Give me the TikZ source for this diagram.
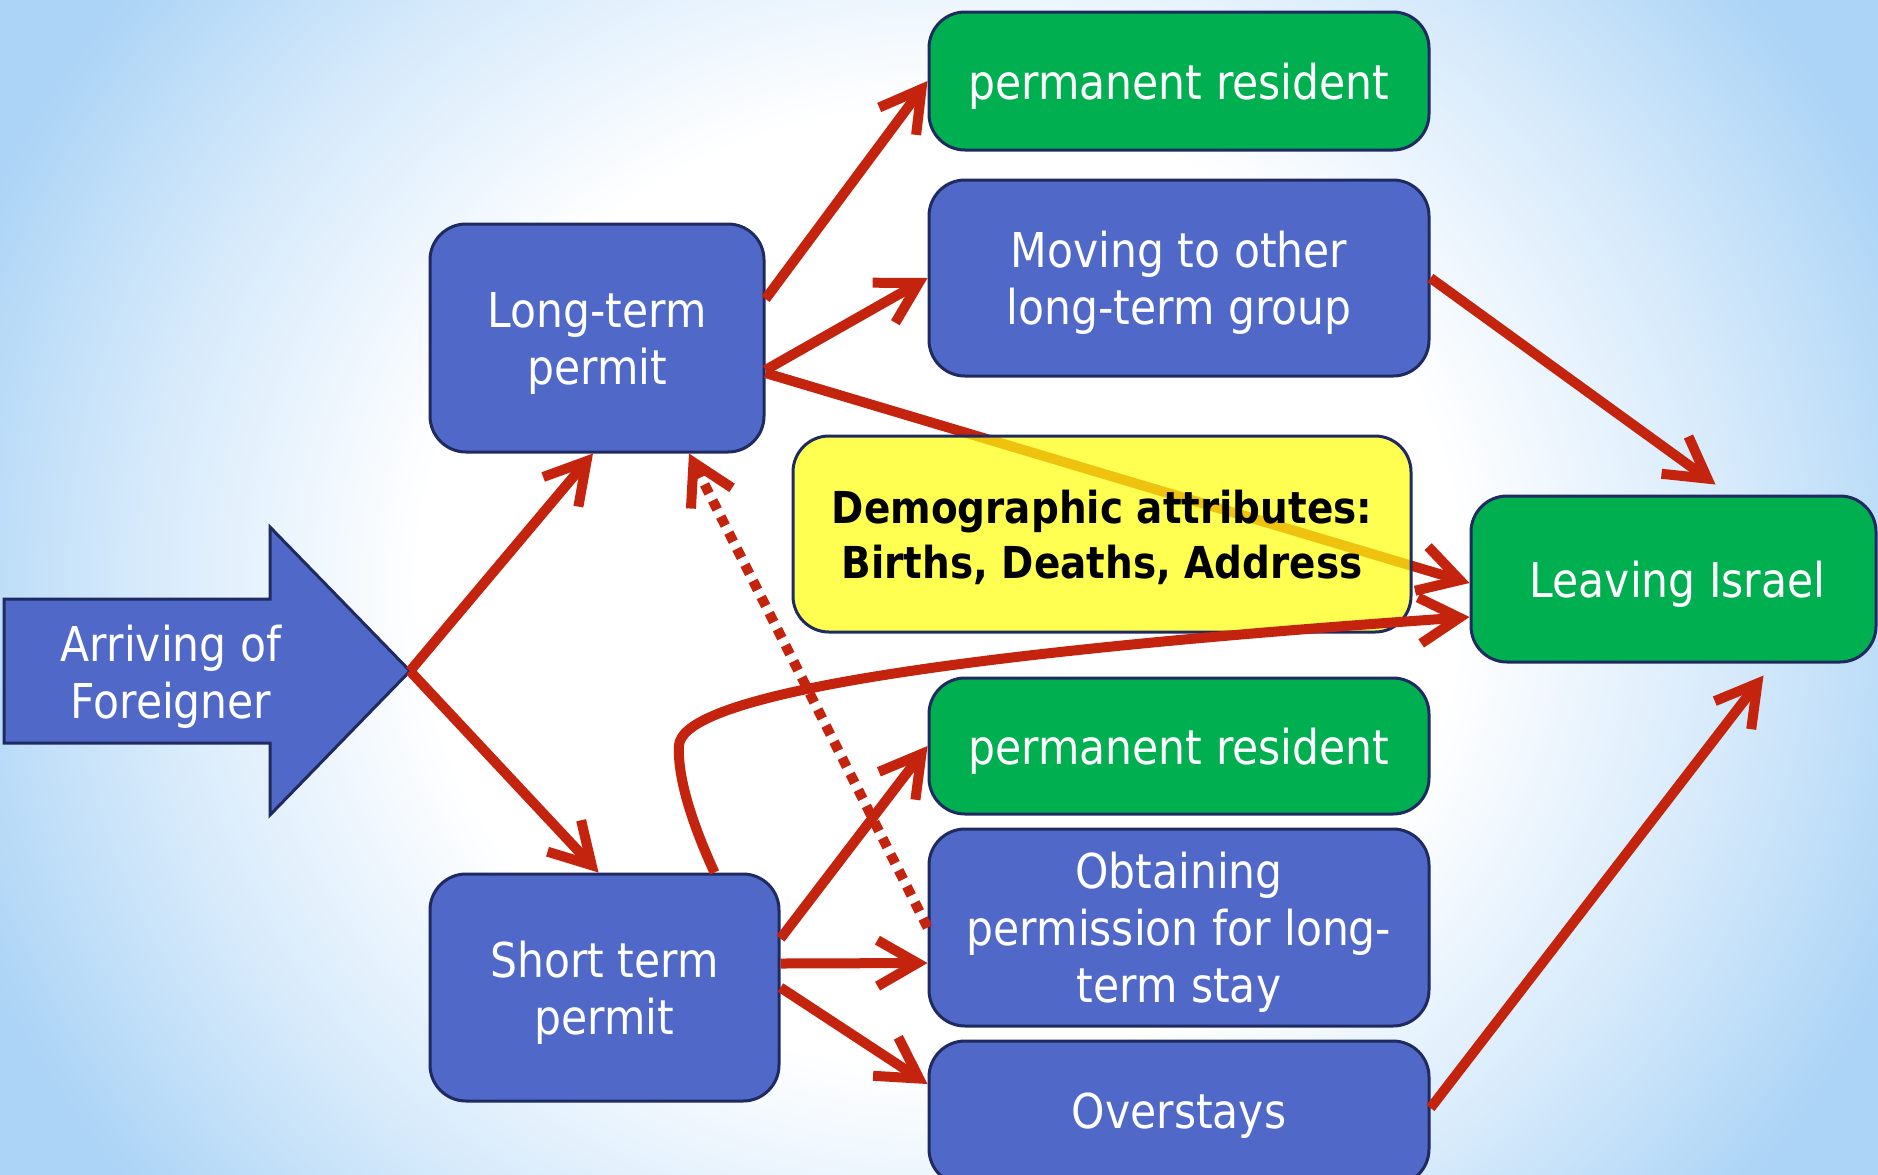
\documentclass[tikz,border=0pt]{standalone}
\usepackage{fontspec}
\setmainfont{DejaVu Sans}[FakeStretch=0.885]
\usetikzlibrary{arrows.meta,fadings}
\definecolor{bgblue}{RGB}{172,212,246}
\definecolor{bgmid}{RGB}{214,234,251}
\definecolor{boxblue}{RGB}{80,104,200}
\definecolor{boxgreen}{RGB}{0,176,80}
\definecolor{navy}{RGB}{30,42,96}
\definecolor{arrred}{RGB}{196,36,14}
\definecolor{ylw}{RGB}{255,255,15}
\pgfdeclareradialshading{bgshade}{\pgfpoint{0bp}{0bp}}{color(0bp)=(white); color(13bp)=(white); color(20bp)=(bgmid); color(26bp)=(bgblue); color(50bp)=(bgblue)}
\tikzfading[name=bandfade, top color=transparent!100, middle color=transparent!35, bottom color=transparent!100]
\begin{document}
\begin{tikzpicture}[x=0.5pt,y=-0.5pt,
  box/.style={draw=navy, line width=1.5pt, rounded corners=18pt, inner sep=0pt},
  bluebox/.style={box, fill=boxblue},
  greenbox/.style={box, fill=boxgreen},
  yellowbox/.style={box, fill=ylw, fill opacity=0.72, draw opacity=1},
  txt/.style={text=white, font=\fontsize{24}{28.5}\selectfont, align=center, inner sep=0pt},
  ytxt/.style={text=black, font=\fontsize{22}{27.5}\selectfont\bfseries, align=center, inner sep=0pt},
  arrowshape/.style={draw=navy, line width=1.5pt, fill=boxblue, line join=miter},
  link/.style={draw=arrred, line width=5pt, -{Straight Barb[length=20pt,width=23pt]}},
  dotlink/.style={link, dash pattern=on 5pt off 4pt}
]
\useasboundingbox (0,0) rectangle (1878,1174);
\clip (0,0) rectangle (1878,1174);
\shade[shading=bgshade] (-60,-330) rectangle (1938,1504);
\fill[bgblue, path fading=bandfade] (0,845) rectangle (1878,940);

% Arrival arrow
\draw[arrowshape] (4,599) -- (270,599) -- (270,527) -- (410,671) -- (270,815) -- (270,743) -- (4,743) -- cycle;
\node[txt] (arrive) at (171,677) {Arriving of\\Foreigner};
\coordinate (tip) at (410,671);

% Boxes
\node[greenbox, minimum width=250pt, minimum height=69pt] (prtop) at (1179,81) {};
\node[bluebox, minimum width=250pt, minimum height=98pt] (move) at (1179,278) {};
\node[bluebox, minimum width=167pt, minimum height=114pt] (lt) at (597,338) {};
\node[greenbox, minimum width=202.5pt, minimum height=83pt] (leave) at (1673.5,579) {};
\node[greenbox, minimum width=250pt, minimum height=68pt] (prbot) at (1179,746) {};
\node[bluebox, minimum width=250pt, minimum height=98.5pt] (obtain) at (1179,927.5) {};
\node[bluebox, minimum width=250pt, minimum height=72pt] (over) at (1179,1113) {};
\node[bluebox, minimum width=174.5pt, minimum height=113.5pt] (st) at (604.5,987.5) {};

\node[txt] (prtop-t) at ([yshift=-2.5pt]prtop.center) {permanent resident};
\node[txt] (move-t) at ([yshift=-2.5pt]move.center) {Moving to other\\long-term group};
\node[txt] (lt-t) at ([yshift=-2.5pt]lt.center) {Long-term\\permit};
\node[txt] (leave-t) at ([xshift=2pt,yshift=-2.5pt]leave.center) {Leaving Israel};
\node[txt] (prbot-t) at ([yshift=-2.5pt]prbot.center) {permanent resident};
\node[txt] (obtain-t) at ([yshift=-2.5pt]obtain.center) {Obtaining\\permission for long-\\term stay};
\node[txt] (over-t) at ([yshift=-1.5pt]over.center) {Overstays};
\node[txt] (st-t) at ([yshift=-2.5pt]st.center) {Short term\\permit};

% line under the yellow box
\draw[link] ([yshift=-17.5pt]lt.east) -- ([yshift=-2pt]leave.west);

\node[yellowbox, minimum width=309pt, minimum height=98pt] (demo) at (1102,534) {};
\node[ytxt] (demo-t) at ([yshift=-1.5pt]demo.center) {Demographic attributes:\\Births, Deaths, Address};

% connectors
\draw[link] (tip) -- ([xshift=-2pt]lt.south);
\draw[link] (tip) -- ([xshift=-3pt]st.north);
\draw[link] ([yshift=19.5pt]lt.east) -- (prtop.west);
\draw[link] ([yshift=-16pt]lt.east) -- (move.west);
\draw[link] (move.east) -- ([xshift=21pt,yshift=5pt]leave.north);
\draw[link] ([xshift=55pt]st.north) .. controls (695,830) and (677,780) .. (679,745)
  .. controls (683,705) and (850,660) .. ([yshift=-19pt]leave.west);
\draw[link] ([yshift=24.5pt]st.east) -- (prbot.west);
\draw[link] ([yshift=12pt]st.east) -- ([yshift=-17.75pt]obtain.west);
\draw[link] (st.east) -- ([yshift=14.5pt]over.west);
\draw[link] ([yshift=2.5pt]over.east) -- ([xshift=45pt,yshift=-6pt]leave.south);
\draw[dotlink] (obtain.west) -- ([xshift=46pt]lt.south);
\end{tikzpicture}
\end{document}
